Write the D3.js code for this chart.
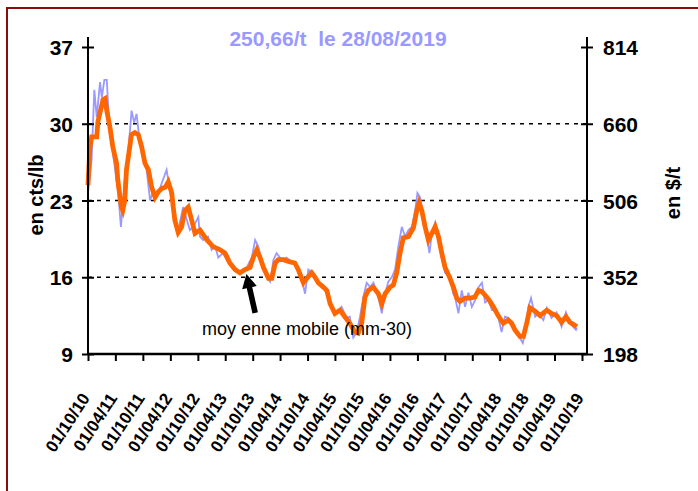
<!DOCTYPE html>
<html>
<head>
<meta charset="utf-8">
<script src="https://cdn.jsdelivr.net/npm/d3@7"></script>
<style>
body { margin: 0; background: #fff; }
text { font-family: "Liberation Sans", Arial, sans-serif; }
</style>
</head>
<body>
<svg id="chart" width="698" height="491"></svg>
<script>
// cours du sucre (cts/lb)
const rawDates = ['2010-10-01','2010-10-25','2010-11-12','2010-11-28','2010-12-20','2011-01-01','2011-01-18','2011-02-03','2011-02-14','2011-03-06','2011-03-28','2011-04-20','2011-05-08','2011-05-23','2011-06-03','2011-06-25','2011-07-18','2011-08-04','2011-08-20','2011-09-12','2011-10-03','2011-10-26','2011-11-18','2011-12-09','2012-01-01','2012-02-04','2012-03-07','2012-03-29','2012-05-01','2012-05-23','2012-06-25','2012-07-07','2012-08-09','2012-09-01','2012-10-04','2012-10-15','2012-11-05','2012-12-08','2013-01-01','2013-01-24','2013-02-14','2013-03-17','2013-05-02','2013-06-16','2013-07-19','2013-08-22','2013-09-25','2013-10-17','2013-11-08','2013-11-30','2014-01-03','2014-01-25','2014-02-16','2014-03-09','2014-04-11','2014-05-14','2014-06-17','2014-07-20','2014-08-22','2014-09-14','2014-10-06','2014-11-08','2014-12-11','2015-01-14','2015-02-06','2015-03-09','2015-04-12','2015-05-15','2015-06-18','2015-07-09','2015-08-01','2015-08-24','2015-09-15','2015-10-07','2015-10-29','2015-11-21','2015-12-13','2016-01-15','2016-02-07','2016-02-29','2016-03-21','2016-04-13','2016-05-05','2016-05-27','2016-06-19','2016-07-11','2016-08-02','2016-08-25','2016-09-16','2016-10-01','2016-10-19','2016-11-11','2016-12-03','2016-12-20','2017-01-05','2017-01-27','2017-02-19','2017-03-11','2017-04-03','2017-05-06','2017-05-27','2017-06-08','2017-07-01','2017-07-23','2017-08-14','2017-09-05','2017-09-28','2017-10-20','2017-11-12','2017-12-04','2017-12-25','2018-01-16','2018-02-09','2018-03-12','2018-04-14','2018-05-06','2018-05-28','2018-07-01','2018-08-03','2018-09-02','2018-09-17','2018-10-09','2018-10-27','2018-11-23','2018-12-14','2019-01-17','2019-02-09','2019-03-12','2019-04-15','2019-05-18','2019-06-16','2019-07-12','2019-08-22','2019-08-28'];
const rawValues = [23.7,26.7,33.1,30.6,33.8,32.4,34.0,34.0,31.2,28.2,26.1,23.7,20.6,23.0,25.1,27.3,31.2,30.1,30.9,28.2,27.3,25.8,23.0,23.9,23.3,24.6,25.8,23.9,21.2,20.3,22.4,21.8,20.3,20.6,21.5,19.7,19.4,19.7,18.5,18.8,17.8,18.2,17.1,16.5,16.4,16.9,17.8,19.4,18.8,17.3,16.0,15.6,17.6,18.2,17.6,17.8,17.4,17.1,16.0,14.5,16.7,16.4,15.6,15.1,14.5,13.3,12.7,13.3,12.3,12.4,10.5,11.0,12.4,14.2,15.5,15.1,15.5,14.2,12.7,14.5,15.6,16.0,16.7,18.8,20.6,19.7,20.3,20.6,22.1,23.7,23.3,21.5,19.7,18.2,20.0,21.0,19.7,17.8,16.4,16.0,14.5,14.2,12.7,14.8,13.3,14.6,13.3,13.9,15.1,15.5,13.7,13.9,13.0,13.0,11.0,12.4,12.3,11.5,10.7,10.0,10.9,13.3,14.1,12.4,12.7,12.1,13.2,12.3,12.8,11.5,12.8,11.8,11.2,11.39];

// moyenne mobile 30 jours
const maDates = ['2010-10-01','2010-10-14','2010-10-25','2010-11-28','2010-12-06','2011-01-09','2011-01-22','2011-02-03','2011-02-24','2011-03-15','2011-04-09','2011-04-17','2011-05-11','2011-05-20','2011-06-03','2011-06-14','2011-07-06','2011-07-17','2011-08-09','2011-09-01','2011-09-23','2011-10-15','2011-11-07','2011-11-29','2011-12-21','2012-01-12','2012-02-04','2012-02-26','2012-03-18','2012-04-10','2012-04-20','2012-05-01','2012-05-23','2012-06-15','2012-07-07','2012-07-29','2012-08-21','2012-09-12','2012-10-15','2012-11-30','2013-01-11','2013-02-26','2013-03-31','2013-05-02','2013-06-05','2013-07-08','2013-08-11','2013-09-13','2013-10-05','2013-10-28','2013-11-19','2013-12-11','2014-01-14','2014-02-05','2014-02-28','2014-03-20','2014-04-22','2014-06-06','2014-07-08','2014-07-31','2014-09-03','2014-09-26','2014-10-29','2014-11-20','2014-12-11','2015-01-14','2015-02-06','2015-02-28','2015-04-01','2015-05-04','2015-06-06','2015-07-09','2015-08-12','2015-09-03','2015-09-26','2015-10-18','2015-11-09','2015-12-12','2016-01-15','2016-02-07','2016-02-29','2016-04-02','2016-04-24','2016-05-16','2016-06-07','2016-06-29','2016-08-02','2016-09-04','2016-09-27','2016-10-12','2016-10-30','2016-11-21','2016-12-13','2017-01-05','2017-01-27','2017-02-18','2017-03-12','2017-04-03','2017-05-06','2017-05-28','2017-06-20','2017-07-11','2017-08-13','2017-09-16','2017-10-19','2017-11-11','2017-12-03','2018-01-05','2018-01-27','2018-02-19','2018-03-22','2018-04-25','2018-05-28','2018-06-20','2018-07-12','2018-08-14','2018-09-06','2018-09-28','2018-10-20','2018-11-23','2018-12-26','2019-02-09','2019-03-12','2019-04-15','2019-05-18','2019-06-16','2019-07-12','2019-08-16','2019-08-28'];
const maValues = [24.4,27.9,28.8,28.8,30.2,32.2,32.3,31.2,29.7,27.9,26.4,24.9,22.4,22.1,23.0,25.8,27.9,29.0,29.2,29.0,27.9,26.4,25.8,24.2,23.3,23.8,24.1,24.2,24.7,23.7,22.4,21.2,20.1,20.6,22.1,22.4,21.2,20.0,20.3,19.4,18.8,18.5,18.2,17.3,16.7,16.4,16.7,16.9,17.8,18.5,17.8,16.9,15.9,15.9,17.3,17.6,17.6,17.4,17.3,16.7,15.5,15.9,16.4,16.0,15.5,15.1,14.8,13.6,12.7,13.0,12.4,11.8,11.0,10.9,11.8,14.2,14.8,15.1,14.5,13.6,14.5,15.1,15.3,16.4,18.2,19.6,19.7,20.5,22.1,22.8,22.1,20.6,19.4,20.0,20.6,19.7,18.2,16.9,15.9,15.1,14.1,13.8,14.1,14.1,14.2,14.8,14.7,14.2,13.8,13.3,12.5,11.8,12.1,11.8,11.2,10.6,10.6,11.8,13.2,12.9,12.5,13.0,12.7,12.5,11.9,12.4,11.9,11.6,11.5];

const leftTicks = [9, 16, 23, 30, 37];
const rightTicks = [198, 352, 506, 660, 814];
const gridTicks = [16, 23, 30];
const title = '250,66/t  le 28/08/2019';
const leftTitle = 'en cts/lb';
const rightTitle = 'en $/t';
const noteText = 'moy enne mobile (mm-30)';
const notePoint = { date: '2013-08-20', value: 16.3 };

const parse = d3.timeParse('%Y-%m-%d');
const raw = rawDates.map((d, i) => ({ date: parse(d), value: rawValues[i] }));
const ma = maDates.map((d, i) => ({ date: parse(d), value: maValues[i] }));

const plotLeft = 88, plotRight = 587, plotTop = 37, plotBottom = 354;

const x = d3.scaleTime()
    .domain([new Date(2010, 9, 1), new Date(2019, 9, 1)])
    .range([plotLeft, 582]);
const y = d3.scaleLinear().domain([9, 37]).range([plotBottom, 47]);
const y2 = d3.scaleLinear().domain([198, 814]).range([plotBottom, 47]);

const svg = d3.select('#chart');

// cadre
svg.append('rect')
    .attr('x', 7).attr('y', 8)
    .attr('width', 760).attr('height', 560)
    .style('fill', 'none')
    .style('stroke', '#8b0a0a')
    .style('stroke-width', 2);

// grille pointillée
svg.append('g')
    .selectAll('line')
    .data(gridTicks)
    .join('line')
    .attr('x1', plotLeft).attr('x2', plotRight)
    .attr('y1', d => y(d)).attr('y2', d => y(d))
    .style('stroke', '#000')
    .style('stroke-width', 1.6)
    .style('stroke-dasharray', '4,5');

// séries
const line = d3.line().x(d => x(d.date)).y(d => y(d.value));

svg.append('path')
    .datum(raw)
    .attr('d', line)
    .style('fill', 'none')
    .style('stroke', '#9999ff')
    .style('stroke-width', 1.8);

svg.append('path')
    .datum(ma)
    .attr('d', line)
    .style('fill', 'none')
    .style('stroke', '#ff6600')
    .style('stroke-width', 4.8)
    .style('stroke-linejoin', 'miter');

// axes
const xTicks = d3.timeMonth.range(new Date(2010, 9, 1), new Date(2019, 9, 2), 6);

const gx = svg.append('g')
    .attr('transform', `translate(0,${plotBottom})`)
    .call(d3.axisBottom(x).tickValues(xTicks).tickSize(7).tickFormat(d3.timeFormat('%d/%m/%y')));
gx.select('.domain').attr('d', `M${plotLeft},0H${plotRight}`).style('stroke-width', 2.5);
gx.selectAll('.tick line').style('stroke-width', 2);
gx.selectAll('.tick text')
    .attr('x', 0).attr('y', 0).attr('dy', 0)
    .attr('transform', 'translate(2,44) rotate(-57)')
    .style('text-anchor', 'end')
    .style('font-size', '17px')
    .style('font-weight', 'bold')
    .style('fill', '#000');

const gl = svg.append('g')
    .attr('transform', `translate(${plotLeft},0)`)
    .call(d3.axisLeft(y).tickValues(leftTicks).tickSize(6).tickPadding(9));
gl.select('.domain').attr('d', `M0,${plotTop}V${plotBottom}`).style('stroke-width', 2);
gl.selectAll('.tick line').attr('x2', -6).attr('x1', 6).style('stroke-width', 2);
gl.selectAll('.tick text')
    .attr('dy', '0.36em')
    .style('font-size', '21px')
    .style('font-weight', 'bold')
    .style('fill', '#000');

const gr = svg.append('g')
    .attr('transform', `translate(${plotRight},0)`)
    .call(d3.axisRight(y2).tickValues(rightTicks).tickSize(6).tickPadding(10));
gr.select('.domain').attr('d', `M0,${plotTop}V${plotBottom}`).style('stroke-width', 2);
gr.selectAll('.tick line').attr('x1', -6).attr('x2', 6).style('stroke-width', 2);
gr.selectAll('.tick text')
    .attr('dy', '0.36em')
    .style('font-size', '21px')
    .style('font-weight', 'bold')
    .style('fill', '#000');

// titres
svg.append('text')
    .attr('x', 338).attr('y', 46)
    .style('text-anchor', 'middle')
    .style('white-space', 'pre')
    .style('font-size', '21px')
    .style('font-weight', 'bold')
    .style('fill', '#9999ff')
    .text(title);

svg.append('text')
    .attr('transform', 'translate(43,195) rotate(-90)')
    .style('text-anchor', 'middle')
    .style('font-size', '20px')
    .style('font-weight', 'bold')
    .text(leftTitle);

svg.append('text')
    .attr('transform', 'translate(680,193) rotate(-90)')
    .style('text-anchor', 'middle')
    .style('font-size', '20px')
    .style('font-weight', 'bold')
    .text(rightTitle);

// annotation
const tipX = x(parse(notePoint.date)), tipY = y(notePoint.value);
const ang = Math.atan2(-40, -9);
const ux = Math.cos(ang), uy = Math.sin(ang);
const px = -uy, py = ux;
const L = 40, head = 14, sw = 2.8, hw = 7.5;
const tail = [tipX - ux * L, tipY - uy * L];
const base = [tipX - ux * head, tipY - uy * head];
svg.append('path')
    .attr('d', d3.line()([
        [tail[0] + px * sw, tail[1] + py * sw],
        [base[0] + px * sw, base[1] + py * sw],
        [base[0] + px * hw, base[1] + py * hw],
        [tipX, tipY],
        [base[0] - px * hw, base[1] - py * hw],
        [base[0] - px * sw, base[1] - py * sw],
        [tail[0] - px * sw, tail[1] - py * sw]
    ]) + 'Z')
    .style('fill', '#000');

svg.append('text')
    .attr('x', 202).attr('y', 335)
    .style('font-size', '18px')
    .style('white-space', 'pre')
    .style('fill', '#000')
    .text(noteText);
</script>
</body>
</html>
